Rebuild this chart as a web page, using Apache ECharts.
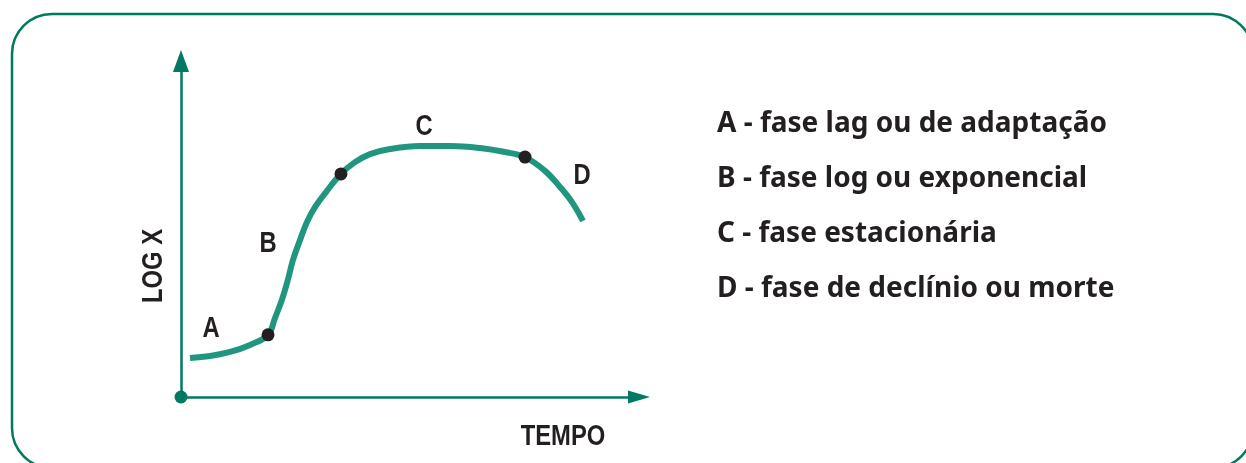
<!DOCTYPE html>
<html>
<head>
<meta charset="utf-8">
<script src="https://cdn.jsdelivr.net/npm/echarts@6/dist/echarts.min.js"></script>
<style>
html,body{margin:0;padding:0;background:#fff;}
#chart{width:1246px;height:463px;}
</style>
</head>
<body>
<div id="chart"></div>
<script>
// Growth curve (arbitrary units: time 0-100, log X 0-100)
const curveTime = [1.97, 6.33, 10.70, 15.07, 19.00, 20.52, 22.05, 23.36, 24.45, 25.98, 27.51, 29.26, 31.66, 34.93, 37.99, 41.27, 45.63, 52.18, 58.73, 65.28, 70.74, 75.11, 79.48, 82.75, 85.37, 87.77];
const curveLogX = [11.6, 12.2, 13.4, 15.5, 18.5, 23.5, 29.0, 35.0, 40.8, 46.7, 52.1, 56.5, 61.0, 66.4, 69.9, 72.3, 73.8, 74.7, 74.7, 74.1, 72.9, 71.4, 67.3, 62.5, 58.0, 52.4];
// Phase boundary points
const boundaryTime = [19.00, 34.93, 75.11];
const boundaryLogX = [18.5, 66.4, 71.4];
// Phase labels
const phaseLetters = ['A', 'B', 'C', 'D'];
const phaseNames = ['fase lag ou de adaptação', 'fase log ou exponencial', 'fase estacionária', 'fase de declínio ou morte'];
const xAxisName = 'TEMPO';
const yAxisName = 'LOG X';

const teal = '#007a63';
const curveColor = '#20967f';
const ink = '#231f20';
const narrow = '"Liberation Sans", Arial, sans-serif';
const legendFont = '"Noto Sans", "DejaVu Sans", sans-serif';

const chart = echarts.init(document.getElementById('chart'), null, {renderer: 'canvas'});

const letterPos = [[211, 329], [268, 244], [424, 127], [582, 176]];
const graphics = [
  {type: 'rect', shape: {x: 12, y: 14, width: 1241, height: 454, r: 40}, style: {fill: 'none', stroke: '#007a5f', lineWidth: 2.5}, z: 0},
  {type: 'text', x: 563, y: 437, scaleX: 0.82, style: {text: xAxisName, fill: ink, font: 'bold 29px ' + narrow, align: 'center', verticalAlign: 'middle'}},
  {type: 'text', x: 154, y: 266, rotation: Math.PI / 2, scaleX: 0.82, style: {text: yAxisName, fill: ink, font: 'bold 29px ' + narrow, align: 'center', verticalAlign: 'middle'}}
];
phaseLetters.forEach((l, i) => {
  graphics.push({type: 'text', x: letterPos[i][0], y: letterPos[i][1], scaleX: 0.82, style: {text: l, fill: ink, font: 'bold 29px ' + narrow, align: 'center', verticalAlign: 'middle'}});
  graphics.push({type: 'text', x: 717, y: 124 + i * 55, style: {text: l + ' - ' + phaseNames[i], fill: ink, font: 'bold 28px ' + legendFont, align: 'left', verticalAlign: 'middle'}});
});

chart.setOption({
  animation: false,
  backgroundColor: '#fff',
  grid: {left: 181, right: 607, top: 61, bottom: 66, containLabel: false},
  xAxis: {
    type: 'value', min: 0, max: 100,
    axisLine: {show: true, onZero: false, symbol: ['none', 'triangle'], symbolSize: [13, 22], lineStyle: {color: teal, width: 2.5}},
    axisTick: {show: false}, axisLabel: {show: false}, splitLine: {show: false}
  },
  yAxis: {
    type: 'value', min: 0, max: 100,
    axisLine: {show: true, onZero: false, symbol: ['none', 'triangle'], symbolSize: [16, 22], lineStyle: {color: teal, width: 2.5}},
    axisTick: {show: false}, axisLabel: {show: false}, splitLine: {show: false}
  },
  series: [
    {
      type: 'line', data: curveTime.map((t, i) => [t, curveLogX[i]]),
      smooth: 0.4, showSymbol: false, symbol: 'none',
      lineStyle: {color: curveColor, width: 6, cap: 'butt'}, z: 3
    },
    {
      type: 'scatter', data: boundaryTime.map((t, i) => [t, boundaryLogX[i]]),
      symbolSize: 13, itemStyle: {color: ink, opacity: 1}, z: 4, clip: false
    },
    {
      type: 'scatter', data: [[0, 0]], symbolSize: 13, itemStyle: {color: teal, opacity: 1}, z: 5, clip: false
    }
  ],
  graphic: graphics
});
</script>
</body>
</html>
